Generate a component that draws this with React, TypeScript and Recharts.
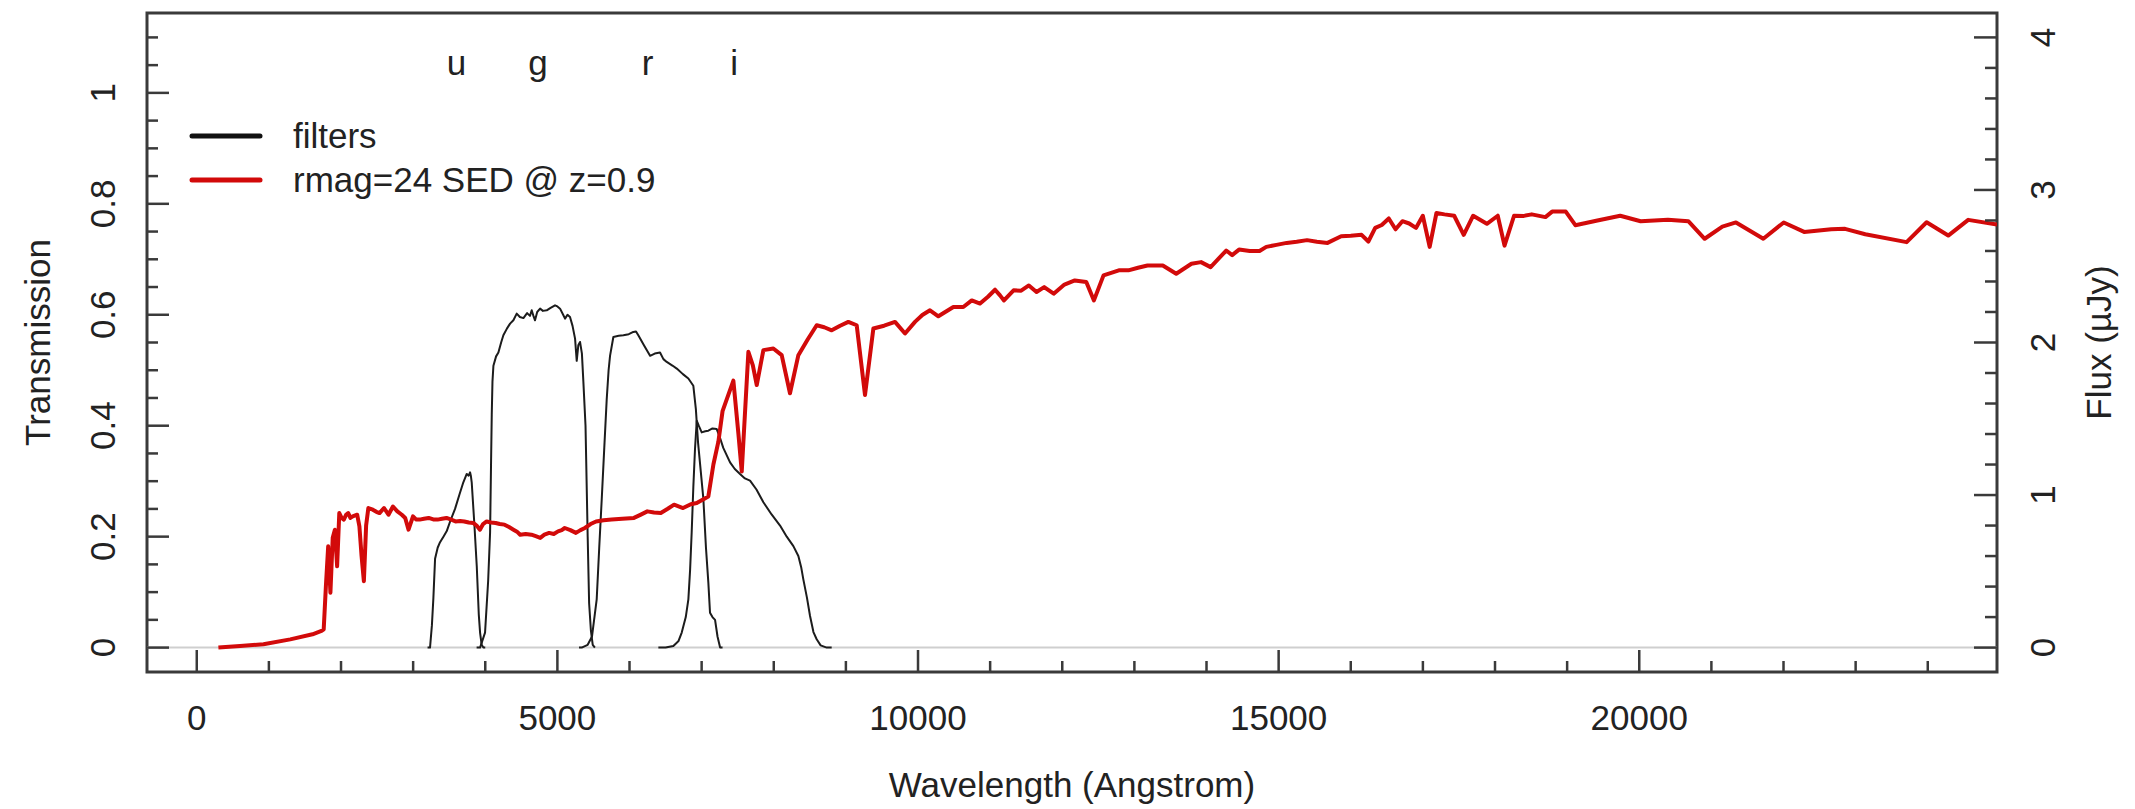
import React from "react";
import {
  ComposedChart,
  Line,
  Scatter,
  XAxis,
  YAxis,
  ReferenceLine,
  ReferenceArea,
  Legend,
} from "recharts";

const FONT = '"Liberation Sans", Arial, Helvetica, sans-serif';
const INK = "#222222";
const AXIS = "#3a3a3a";
const SED_RED = "#d20a0a";
const FILTER_INK = "#1c1c1c";

const W = 2135;
const H = 809;
const PLOT_TOP = 13;
const PLOT_BOTTOM = 672;
const PLOT_LEFT = 147;
const PLOT_RIGHT = 1997;

const X_DOMAIN = [-690, 24960];
const T_DOMAIN = [-0.044, 1.144];
const F_DOMAIN = [-0.16, 4.16];

const X_TICKS = [
  0, 1000, 2000, 3000, 4000, 5000, 6000, 7000, 8000, 9000, 10000, 11000, 12000,
  13000, 14000, 15000, 16000, 17000, 18000, 19000, 20000, 21000, 22000, 23000, 24000,
];
const T_TICKS = [
  0, 0.05, 0.1, 0.15, 0.2, 0.25, 0.3, 0.35, 0.4, 0.45, 0.5, 0.55, 0.6, 0.65, 0.7,
  0.75, 0.8, 0.85, 0.9, 0.95, 1, 1.05, 1.1,
];
const F_TICKS = [
  0, 0.2, 0.4, 0.6, 0.8, 1, 1.2, 1.4, 1.6, 1.8, 2, 2.2, 2.4, 2.6, 2.8, 3, 3.2, 3.4,
  3.6, 3.8, 4,
];

// filter transmission curves
const U_WAVE = [3200, 3234, 3260, 3281, 3304, 3340, 3373, 3420, 3466, 3520, 3581, 3640, 3696, 3743, 3770, 3789, 3800, 3812, 3850, 3882, 3910, 3928, 3950, 3974, 4000];
const U_TRANS = [0, 0, 0.04, 0.09, 0.16, 0.18, 0.19, 0.2, 0.21, 0.23, 0.25, 0.275, 0.298, 0.313, 0.31, 0.316, 0.31, 0.298, 0.22, 0.147, 0.06, 0.027, 0.005, 0, 0];

const G_WAVE = [3880, 3928, 3997, 4040, 4067, 4080, 4090, 4100, 4113, 4150, 4182, 4220, 4251, 4300, 4344, 4390, 4436, 4480, 4529, 4580, 4620, 4644, 4670, 4690, 4720, 4760, 4800, 4852, 4900, 4967, 5000, 5037, 5080, 5106, 5140, 5175, 5210, 5245, 5268, 5290, 5314, 5340, 5360, 5390, 5420, 5440, 5465, 5490, 5520];
const G_TRANS = [0, 0, 0.027, 0.12, 0.208, 0.33, 0.42, 0.48, 0.508, 0.525, 0.532, 0.55, 0.563, 0.575, 0.584, 0.59, 0.602, 0.596, 0.594, 0.603, 0.598, 0.608, 0.597, 0.59, 0.605, 0.611, 0.607, 0.608, 0.612, 0.617, 0.615, 0.611, 0.6, 0.593, 0.6, 0.596, 0.58, 0.557, 0.517, 0.545, 0.551, 0.53, 0.48, 0.4, 0.2, 0.08, 0.03, 0.005, 0];

const R_WAVE = [5300, 5337, 5420, 5480, 5545, 5580, 5615, 5650, 5684, 5710, 5730, 5776, 5850, 5915, 5990, 6053, 6090, 6122, 6200, 6285, 6350, 6423, 6470, 6516, 6600, 6655, 6740, 6816, 6885, 6920, 6950, 7024, 7060, 7093, 7116, 7150, 7186, 7220, 7256, 7290];
const R_TRANS = [0, 0, 0.005, 0.02, 0.087, 0.18, 0.268, 0.36, 0.448, 0.5, 0.526, 0.56, 0.562, 0.563, 0.565, 0.569, 0.57, 0.563, 0.545, 0.526, 0.53, 0.532, 0.52, 0.515, 0.508, 0.503, 0.493, 0.485, 0.472, 0.43, 0.37, 0.268, 0.18, 0.117, 0.063, 0.055, 0.05, 0.02, 0, 0];

const I_WAVE = [6400, 6500, 6608, 6680, 6724, 6780, 6816, 6840, 6862, 6885, 6908, 6932, 6960, 7001, 7050, 7093, 7150, 7209, 7250, 7300, 7394, 7460, 7532, 7600, 7671, 7760, 7856, 7970, 8087, 8180, 8272, 8341, 8380, 8410, 8460, 8503, 8550, 8595, 8650, 8734, 8803];
const I_TRANS = [0, 0, 0.003, 0.012, 0.027, 0.055, 0.087, 0.14, 0.208, 0.29, 0.358, 0.409, 0.4, 0.388, 0.39, 0.391, 0.395, 0.394, 0.38, 0.36, 0.334, 0.322, 0.313, 0.305, 0.301, 0.285, 0.262, 0.24, 0.22, 0.2, 0.183, 0.165, 0.145, 0.123, 0.09, 0.057, 0.028, 0.015, 0.004, 0, 0];

// galaxy SED, flux in microJansky
const SED_WAVE = [
  300, 600, 925, 1296, 1605, 1729, 1760, 1790, 1822, 1853, 1885, 1915, 1946, 1976, 2008, 2039, 2070, 2100, 2130, 2162,
  2224, 2255, 2285, 2317, 2348, 2379, 2441, 2490, 2534, 2596, 2658, 2720, 2781, 2843, 2890, 2936, 2998, 3040, 3090, 3150,
  3215, 3280, 3339, 3400, 3462, 3520, 3587, 3650, 3710, 3770, 3833, 3880, 3926, 3970, 4019, 4080, 4143, 4200, 4267, 4330,
  4391, 4440, 4484, 4560, 4639, 4700, 4762, 4820, 4886, 4950, 5009, 5060, 5102, 5180, 5257, 5320, 5381, 5460, 5536, 5640,
  5752, 5900, 6061, 6150, 6247, 6340, 6433, 6530, 6618, 6742, 6850, 6932, 7093, 7163, 7232, 7290, 7440, 7510, 7556, 7648,
  7710, 7764, 7856, 7994, 8110, 8225, 8341, 8470, 8595, 8700, 8803, 8920, 9034, 9150, 9265, 9381, 9530, 9681, 9820, 9958,
  10060, 10166, 10282, 10490, 10628, 10745, 10860, 10970, 11068, 11137, 11192, 11325, 11430, 11537, 11643, 11749, 11881, 12030, 12174, 12333,
  12439, 12572, 12784, 12917, 13050, 13182, 13394, 13580, 13791, 13924, 14057, 14273, 14356, 14451, 14600, 14735, 14829, 14970, 15112, 15250,
  15394, 15530, 15678, 15867, 16000, 16150, 16244, 16339, 16430, 16527, 16621, 16716, 16810, 16904, 16999, 17094, 17188, 17300, 17434, 17566,
  17697, 17887, 18038, 18132, 18264, 18400, 18510, 18699, 18792, 18981, 19114, 19420, 19736, 20019, 20397, 20680, 20907, 21152, 21341, 21720,
  22003, 22286, 22662, 22853, 23134, 23707, 23984, 24284, 24561, 24960,
];
const SED_FLUX = [
  0.0, 0.01, 0.022, 0.054, 0.087, 0.109, 0.12, 0.4, 0.664, 0.36, 0.72, 0.773, 0.533, 0.882, 0.85, 0.839, 0.87, 0.882, 0.85, 0.86,
  0.871, 0.795, 0.6, 0.435, 0.8, 0.915, 0.904, 0.89, 0.882, 0.915, 0.871, 0.925, 0.893, 0.871, 0.85, 0.773, 0.86, 0.84, 0.839, 0.845,
  0.85, 0.84, 0.839, 0.845, 0.85, 0.84, 0.827, 0.83, 0.827, 0.82, 0.817, 0.8, 0.773, 0.81, 0.827, 0.82, 0.817, 0.81, 0.806, 0.79,
  0.773, 0.76, 0.74, 0.745, 0.74, 0.73, 0.719, 0.74, 0.752, 0.745, 0.762, 0.77, 0.784, 0.77, 0.752, 0.77, 0.784, 0.81, 0.827, 0.835,
  0.839, 0.845, 0.85, 0.87, 0.893, 0.885, 0.882, 0.91, 0.937, 0.915, 0.94, 0.948, 0.991, 1.2, 1.35, 1.55, 1.75, 1.4, 1.154, 1.939,
  1.85, 1.721, 1.95, 1.961, 1.917, 1.667, 1.917, 2.02, 2.113, 2.1, 2.08, 2.11, 2.135, 2.113, 1.656, 2.092, 2.11, 2.135, 2.059, 2.135,
  2.18, 2.211, 2.172, 2.233, 2.233, 2.276, 2.255, 2.3, 2.346, 2.309, 2.276, 2.342, 2.34, 2.374, 2.331, 2.363, 2.32, 2.38, 2.407, 2.396,
  2.276, 2.44, 2.473, 2.473, 2.49, 2.505, 2.505, 2.451, 2.516, 2.527, 2.494, 2.603, 2.573, 2.609, 2.6, 2.6, 2.627, 2.64, 2.653, 2.66,
  2.671, 2.66, 2.653, 2.697, 2.7, 2.706, 2.662, 2.751, 2.77, 2.813, 2.742, 2.795, 2.78, 2.751, 2.831, 2.627, 2.849, 2.84, 2.831, 2.706,
  2.831, 2.778, 2.831, 2.635, 2.831, 2.83, 2.84, 2.822, 2.858, 2.858, 2.769, 2.8, 2.831, 2.795, 2.805, 2.795, 2.68, 2.76, 2.787, 2.68,
  2.787, 2.725, 2.742, 2.745, 2.71, 2.658, 2.788, 2.701, 2.804, 2.773,
];

// filter names written above the curves
const BAND_NAMES = ["u", "g", "r", "i"];
const BAND_WAVE = [3600, 4730, 6250, 7450];
const BAND_LABEL_T = 1.05;

const zip = (waves: number[], vals: number[], key: string) =>
  waves.map((w, i) => ({ w, [key]: vals[i] }));

const uData = zip(U_WAVE, U_TRANS, "t");
const gData = zip(G_WAVE, G_TRANS, "t");
const rData = zip(R_WAVE, R_TRANS, "t");
const iData = zip(I_WAVE, I_TRANS, "t");
const sedData = zip(SED_WAVE, SED_FLUX, "f");
const bandData = BAND_NAMES.map((name, i) => ({ w: BAND_WAVE[i], t: BAND_LABEL_T, name }));

const textStyle = { fontFamily: FONT, fontSize: 35, fill: INK };

const XTick = (props: any) => {
  const { x, payload } = props;
  const v = payload.value;
  const major = v % 5000 === 0;
  return (
    <g>
      <line x1={x} x2={x} y1={PLOT_BOTTOM} y2={PLOT_BOTTOM - (major ? 22 : 11)} stroke={AXIS} strokeWidth={2.5} />
      {major && (
        <text x={x} y={730} textAnchor="middle" {...textStyle}>
          {v}
        </text>
      )}
    </g>
  );
};

const TTick = (props: any) => {
  const { y, payload } = props;
  const v = payload.value;
  const major = Math.round(v * 100) % 20 === 0;
  const label = v === 0 ? "0" : v === 1 ? "1" : v.toFixed(1);
  return (
    <g>
      <line x1={PLOT_LEFT} x2={PLOT_LEFT + (major ? 22 : 11)} y1={y} y2={y} stroke={AXIS} strokeWidth={2.5} />
      {major && (
        <text x={115} y={y} transform={`rotate(-90 115 ${y})`} textAnchor="middle" {...textStyle}>
          {label}
        </text>
      )}
    </g>
  );
};

const FTick = (props: any) => {
  const { y, payload } = props;
  const v = payload.value;
  const major = Math.abs(v - Math.round(v)) < 1e-6;
  return (
    <g>
      <line x1={PLOT_RIGHT} x2={PLOT_RIGHT - (major ? 23 : 12)} y1={y} y2={y} stroke={AXIS} strokeWidth={2.5} />
      {major && (
        <text x={2055} y={y} transform={`rotate(-90 2055 ${y})`} textAnchor="middle" {...textStyle}>
          {Math.round(v)}
        </text>
      )}
    </g>
  );
};

const renderLegend = () => (
  <svg width={480} height={90} style={{ display: "block", overflow: "visible" }}>
    <line x1={2} x2={70} y1={22} y2={22} stroke="#111" strokeWidth={5} strokeLinecap="round" />
    <text x={103} y={34} {...textStyle}>filters</text>
    <line x1={2} x2={70} y1={66} y2={66} stroke={SED_RED} strokeWidth={5} strokeLinecap="round" />
    <text x={103} y={78} {...textStyle}>rmag=24 SED @ z=0.9</text>
  </svg>
);

const BandName = (props: any) => {
  const { cx, cy, payload } = props;
  return (
    <text x={cx} y={cy + 10} textAnchor="middle" {...textStyle}>
      {payload.name}
    </text>
  );
};

export default function App() {
  const midX = (PLOT_LEFT + PLOT_RIGHT) / 2;
  const midY = (PLOT_TOP + PLOT_BOTTOM) / 2;
  return (
    <div style={{ width: W, height: H, background: "#fff" }}>
      <style>{"body{margin:0;background:#fff}"}</style>
      <ComposedChart width={W} height={H} margin={{ top: PLOT_TOP, right: 0, bottom: 0, left: 0 }}>
        <XAxis
          dataKey="w"
          type="number"
          domain={X_DOMAIN}
          allowDataOverflow
          ticks={X_TICKS}
          interval={0}
          height={H - PLOT_BOTTOM}
          axisLine={false}
          tickLine={false}
          tick={XTick}
          label={{
            content: () => (
              <text x={midX} y={797} textAnchor="middle" {...textStyle}>
                Wavelength (Angstrom)
              </text>
            ),
          }}
        />
        <YAxis
          yAxisId="t"
          type="number"
          domain={T_DOMAIN}
          allowDataOverflow
          ticks={T_TICKS}
          interval={0}
          width={PLOT_LEFT}
          axisLine={false}
          tickLine={false}
          tick={TTick}
          label={{
            content: () => (
              <text x={50} y={midY} transform={`rotate(-90 50 ${midY})`} textAnchor="middle" {...textStyle}>
                Transmission
              </text>
            ),
          }}
        />
        <YAxis
          yAxisId="f"
          orientation="right"
          type="number"
          domain={F_DOMAIN}
          allowDataOverflow
          ticks={F_TICKS}
          interval={0}
          width={W - PLOT_RIGHT}
          axisLine={false}
          tickLine={false}
          tick={FTick}
          label={{
            content: () => (
              <text x={2111} y={midY} transform={`rotate(-90 2111 ${midY})`} textAnchor="middle" {...textStyle}>
                Flux (µJy)
              </text>
            ),
          }}
        />
        <ReferenceLine yAxisId="t" y={0} stroke="#cfcfcf" strokeWidth={2} />
        {[uData, gData, rData, iData].map((d, k) => (
          <Line
            key={k}
            yAxisId="t"
            data={d}
            dataKey="t"
            stroke={FILTER_INK}
            strokeWidth={2}
            dot={false}
            isAnimationActive={false}
            strokeLinejoin="round"
          />
        ))}
        <Line
          yAxisId="f"
          data={sedData}
          dataKey="f"
          stroke={SED_RED}
          strokeWidth={4}
          dot={false}
          isAnimationActive={false}
          strokeLinejoin="round"
        />
        <Scatter yAxisId="t" data={bandData} dataKey="t" shape={BandName} isAnimationActive={false} />
        <ReferenceArea
          yAxisId="t"
          x1={X_DOMAIN[0]}
          x2={X_DOMAIN[1]}
          y1={T_DOMAIN[0]}
          y2={T_DOMAIN[1]}
          fill="none"
          fillOpacity={0}
          stroke={AXIS}
          strokeWidth={3}
        />
        <Legend
          layout="horizontal"
          verticalAlign="middle"
          align="center"
          content={renderLegend}
          wrapperStyle={{ position: "absolute", left: 190, top: 114, width: 480, height: 90 }}
        />
      </ComposedChart>
    </div>
  );
}
